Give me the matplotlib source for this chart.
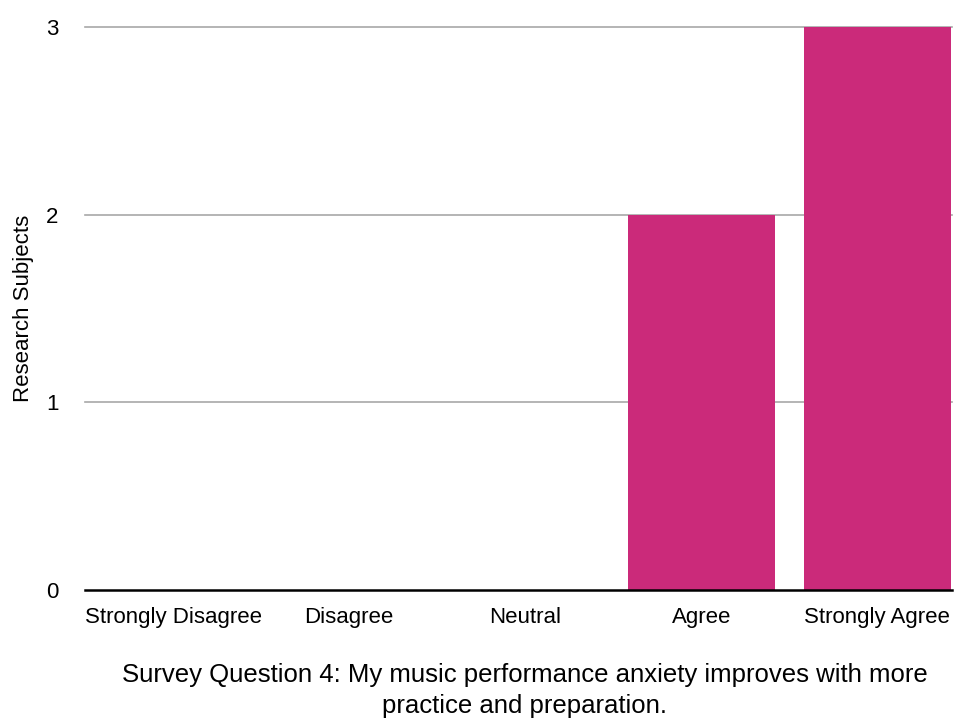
import matplotlib
matplotlib.use("Agg")
import matplotlib.pyplot as plt

categories = ["Strongly Disagree", "Disagree", "Neutral", "Agree", "Strongly Agree"]
counts = [0, 0, 0, 2, 3]
y_ticks = [0, 1, 2, 3]
caption = ["Survey Question 4: My music performance anxiety improves with more",
           "practice and preparation."]

plt.rcParams['font.family'] = ['Liberation Sans', 'DejaVu Sans']

fig = plt.figure(figsize=(9.59, 7.21), dpi=100)
ax = fig.add_axes([0.0886, 0.1817, 0.904, 0.7809])

ax.bar(range(len(categories)), counts, width=0.835, color='#CB2A7A', zorder=3)

ax.set_ylim(0, 3)
ax.set_xlim(-0.5, 4.423)
ax.set_yticks(y_ticks)
ax.set_yticklabels([str(t) for t in y_ticks], fontsize=16)
ax.set_xticks(range(len(categories)))
ax.set_xticklabels(categories, fontsize=16)
ax.tick_params(axis='both', length=0)
ax.tick_params(axis='y', pad=19)
ax.tick_params(axis='x', pad=12)

for t in y_ticks[1:]:
    ax.axhline(t, color='#a8a8a8', linewidth=1.2, zorder=1, clip_on=False)
ax.axhline(0, color='black', linewidth=1.8, zorder=4, clip_on=False)

for s in ax.spines.values():
    s.set_visible(False)

ax.set_ylabel("Research Subjects", fontsize=16)
ax.yaxis.set_label_coords(-0.059, 0.5)

# caption below the chart, two centred lines
fig.text(0.5474, 1 - 682 / 721, caption[0], fontsize=18.5, ha='center', va='baseline')
fig.text(0.5474, 1 - 713 / 721, caption[1], fontsize=18.5, ha='center', va='baseline')

fig.savefig("out.png", dpi=100)
